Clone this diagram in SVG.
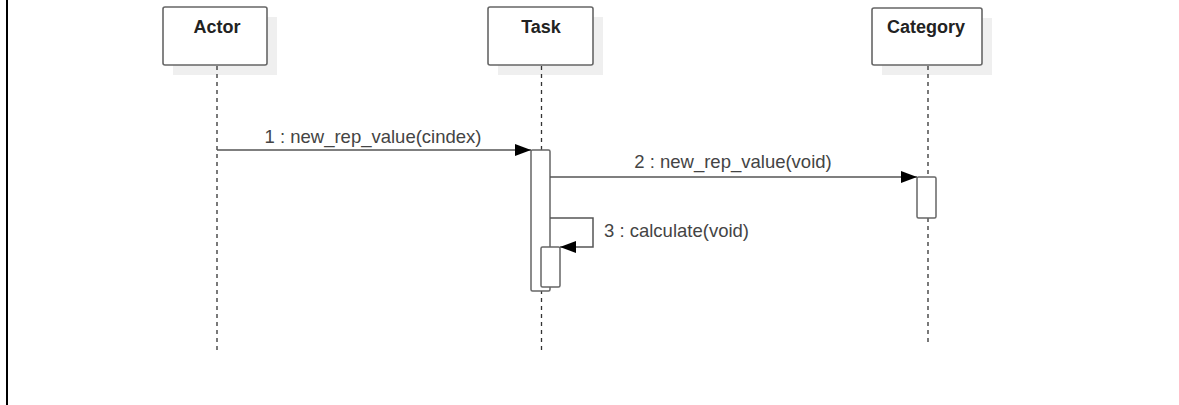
<svg xmlns="http://www.w3.org/2000/svg" width="1179" height="405" viewBox="0 0 1179 405">
<style>
.box{fill:#fff;stroke:#666;stroke-width:1.6}
.shadow{fill:#efefef}
.head{font-family:"Liberation Sans",Arial,sans-serif;font-weight:bold;font-size:18px;fill:#222;text-anchor:middle}
.life{stroke:#333;stroke-width:1.3;stroke-dasharray:4 4;fill:none}
.act{fill:#fff;stroke:#666;stroke-width:1.5}
.msg{stroke:#555;stroke-width:1.5;fill:none;marker-end:url(#ah)}
.lbl{font-family:"Liberation Sans",Arial,sans-serif;font-size:18.5px;fill:#444}
</style>
<defs>
<marker id="ah" markerUnits="userSpaceOnUse" markerWidth="16" markerHeight="12" refX="16" refY="6" orient="auto">
<path d="M0,0 L16,6 L0,12 Z" fill="#000"/>
</marker>
</defs>
<rect width="1179" height="405" fill="#fff"/>
<line x1="7" y1="0" x2="7" y2="405" stroke="#000" stroke-width="2"/>
<g id="actor">
<rect class="shadow" x="173" y="17" width="104" height="58"/>
<rect class="box" x="163" y="7" width="104" height="58" rx="2"/>
<text class="head" x="217" y="33">Actor</text>
<line class="life" x1="217" y1="66" x2="217" y2="350"/>
</g>
<g id="task">
<rect class="shadow" x="498" y="17" width="105" height="58"/>
<rect class="box" x="488" y="7" width="105" height="58" rx="2"/>
<text class="head" x="541" y="33">Task</text>
<line class="life" x1="541.5" y1="66" x2="541.5" y2="350"/>
<rect class="act" x="531" y="150" width="19" height="141" rx="1.5"/>
<rect class="act" x="541" y="247" width="19" height="40" rx="1.5"/>
</g>
<g id="category">
<rect class="shadow" x="882" y="18" width="110" height="57"/>
<rect class="box" x="872" y="8" width="110" height="57" rx="2"/>
<text class="head" x="926" y="33">Category</text>
<line class="life" x1="928" y1="66" x2="928" y2="342"/>
<rect class="act" x="917" y="177" width="19" height="41" rx="1.5"/>
</g>
<g id="connectors">
<line class="msg" x1="217" y1="150" x2="531" y2="150"/>
<text class="lbl" x="373" y="143" text-anchor="middle">1 : new_rep_value(cindex)</text>
<line class="msg" x1="550" y1="177" x2="917" y2="177"/>
<text class="lbl" x="733" y="168" text-anchor="middle">2 : new_rep_value(void)</text>
<path class="msg" d="M550,218 H593 V247 H560"/>
<text class="lbl" x="604" y="237">3 : calculate(void)</text>
</g>
</svg>
